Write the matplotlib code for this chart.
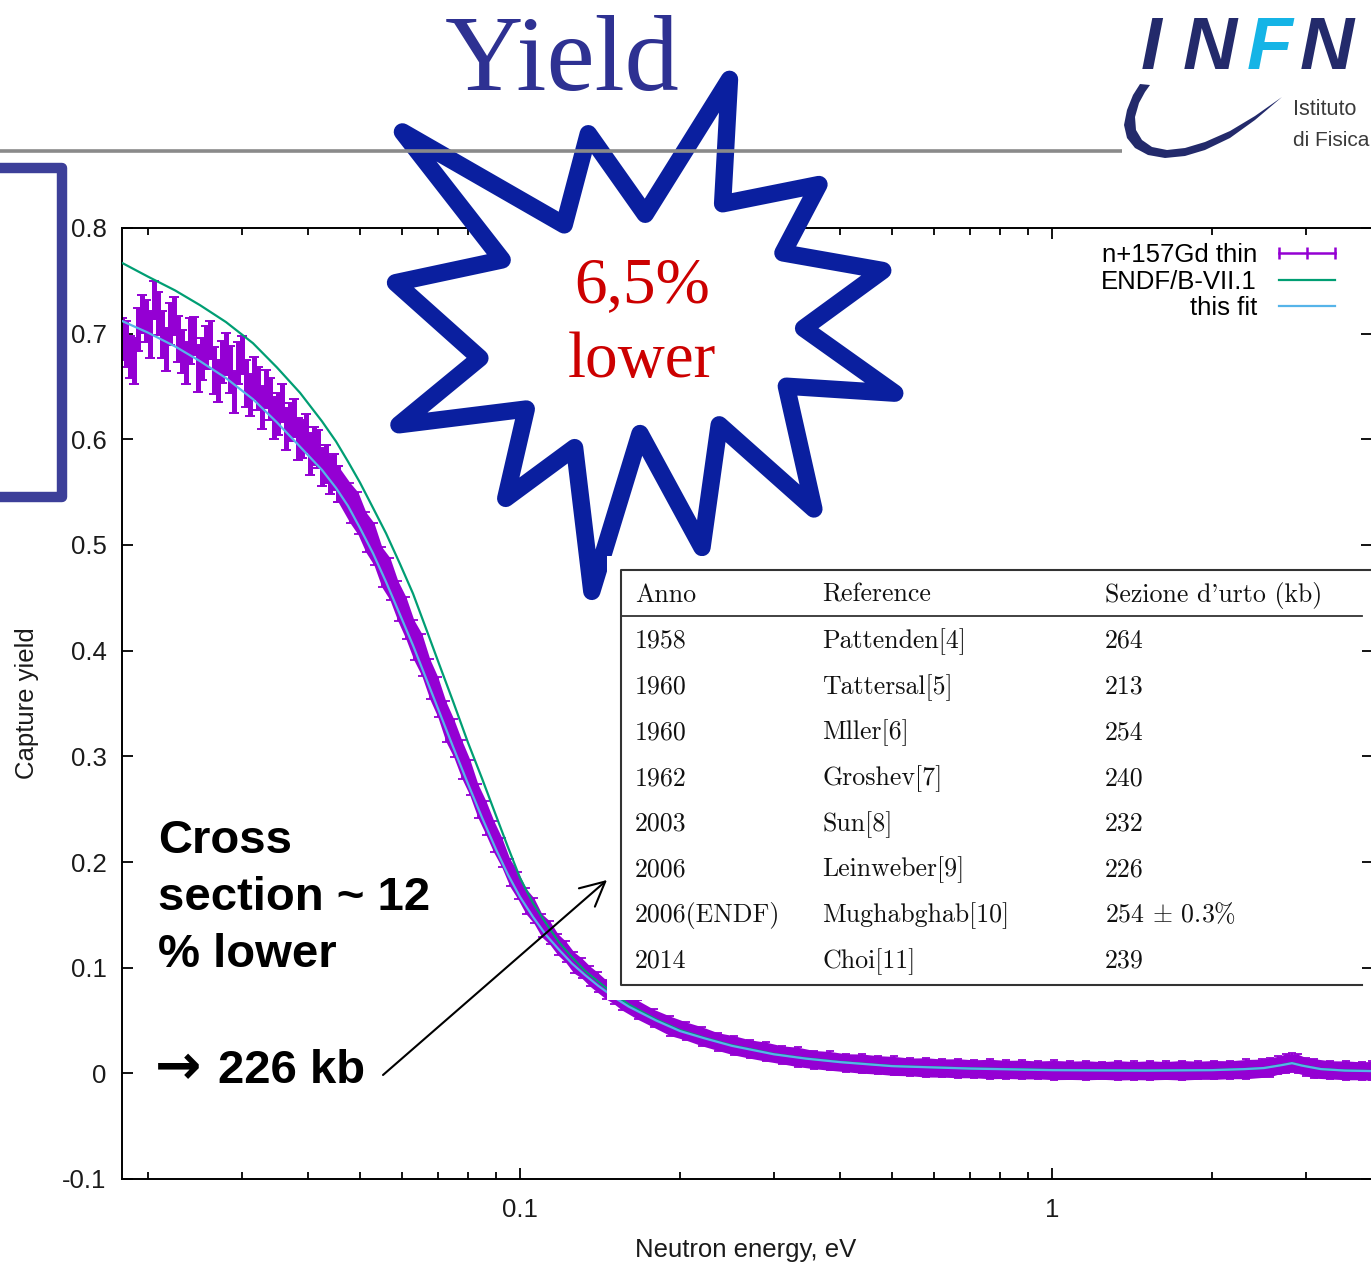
import matplotlib
matplotlib.use("Agg")
import matplotlib.pyplot as plt
from matplotlib.patches import Polygon, Rectangle
from matplotlib.lines import Line2D
from matplotlib.ticker import NullFormatter, LogLocator, FixedLocator

# ---------------- data ----------------
energy_data = [
    # low-energy cloud
    0.01786, 0.018172, 0.018489, 0.018812, 0.019140, 0.019475, 0.019815, 0.020161, 0.020513, 0.020871,
    0.021235, 0.021606, 0.021983, 0.022367, 0.022757, 0.023155, 0.023559, 0.023970, 0.024389, 0.024815,
    0.025248, 0.025689, 0.026137, 0.026593, 0.027058, 0.027530, 0.028011, 0.028500, 0.028997, 0.029504,
    0.030019, 0.030543, 0.031076, 0.031619, 0.032171, 0.032733, 0.033304, 0.033886, 0.034477, 0.035079,
    0.035692, 0.036315, 0.036949, 0.037594, 0.038250, 0.038918, 0.039598, 0.040289, 0.040993, 0.041708,
    0.042437, 0.043178, 0.043931, 0.044698, 0.045479,
    # steep fall
    0.04791, 0.04960, 0.05134, 0.05315, 0.05502, 0.05696, 0.05896, 0.06104, 0.06319,
    0.06541, 0.06771, 0.07010, 0.07256, 0.07512, 0.07776, 0.08050, 0.08333, 0.08627, 0.08930,
    0.09245, 0.09570, 0.09907, 0.1026, 0.1062, 0.1099, 0.1138, 0.1178, 0.1219, 0.1262,
    0.1307, 0.1353, 0.1400, 0.1450, 0.1500, 0.1553,
    # tail and 2.8 eV resonance
    0.1666, 0.1785, 0.1913, 0.2051, 0.2198, 0.2355, 0.2524, 0.2705, 0.2899, 0.3107,
    0.3330, 0.3569, 0.3825, 0.4099, 0.4393, 0.4708, 0.5046, 0.5407, 0.5795, 0.6211,
    0.6656, 0.7133, 0.7645, 0.8193, 0.8780, 0.9410, 1.0085, 1.0808, 1.1583, 1.2413,
    1.3303, 1.4257, 1.5280, 1.6375, 1.7549, 1.8808, 2.0157, 2.1602, 2.3151, 2.4811,
    2.569, 2.660, 2.754, 2.826, 2.900, 3.002, 3.108, 3.332, 3.570, 3.826, 3.996,
]
yield_data = [
    0.695, 0.690, 0.678, 0.674, 0.704, 0.719, 0.712, 0.699, 0.732, 0.719,
    0.699, 0.685, 0.709, 0.717, 0.695, 0.683, 0.672, 0.693, 0.698, 0.667,
    0.676, 0.687, 0.694, 0.665, 0.655, 0.673, 0.681, 0.666, 0.645, 0.672,
    0.680, 0.653, 0.642, 0.658, 0.648, 0.630, 0.648, 0.638, 0.620, 0.624,
    0.634, 0.610, 0.616, 0.620, 0.600, 0.600, 0.606, 0.586, 0.594, 0.591,
    0.574, 0.577, 0.566, 0.569, 0.558,
    0.540, 0.530, 0.512, 0.501, 0.479, 0.468, 0.447, 0.431, 0.410,
    0.396, 0.373, 0.356, 0.333, 0.317, 0.297, 0.280, 0.258, 0.242, 0.224,
    0.209, 0.190, 0.178, 0.163, 0.154, 0.140, 0.133, 0.122, 0.115, 0.105,
    0.0995, 0.092, 0.086, 0.0795, 0.075, 0.069,
    0.060, 0.052, 0.045, 0.040, 0.035, 0.030, 0.0265, 0.023, 0.0205, 0.0175,
    0.0155, 0.013, 0.0118, 0.010, 0.0092, 0.008, 0.0070, 0.0061, 0.0056, 0.0050,
    0.0048, 0.0043, 0.0041, 0.0037, 0.0036, 0.0032, 0.0031, 0.0029, 0.0029, 0.0027,
    0.0028, 0.0026, 0.0028, 0.0027, 0.0029, 0.0029, 0.0032, 0.0034, 0.0040, 0.0048,
    0.0058, 0.0076, 0.0094, 0.0102, 0.0090, 0.0064, 0.0046, 0.0033, 0.0028, 0.0024, 0.0023,
]
yield_err = [
    0.020, 0.022, 0.020, 0.022, 0.020, 0.018, 0.020, 0.022, 0.018, 0.020,
    0.022, 0.020, 0.020, 0.018, 0.022, 0.020, 0.020, 0.022, 0.018, 0.022,
    0.020, 0.020, 0.018, 0.022, 0.020, 0.020, 0.020, 0.022, 0.020, 0.020,
    0.018, 0.022, 0.020, 0.020, 0.020, 0.020, 0.018, 0.020, 0.020, 0.020,
    0.018, 0.020, 0.018, 0.018, 0.020, 0.018, 0.018, 0.020, 0.018, 0.018,
    0.018, 0.018, 0.018, 0.017, 0.017,
    0.019, 0.020, 0.019, 0.020, 0.019, 0.020, 0.019, 0.020, 0.019,
    0.020, 0.019, 0.019, 0.019, 0.018, 0.018, 0.017, 0.016, 0.016, 0.015,
    0.014, 0.013, 0.013, 0.012, 0.012, 0.011, 0.011, 0.010, 0.010, 0.010,
    0.0095, 0.0095, 0.0095, 0.009, 0.009, 0.009,
    0.009, 0.0085, 0.0092, 0.0086, 0.0090, 0.0084, 0.0091, 0.0087, 0.0090, 0.0085,
    0.0092, 0.0086, 0.0089, 0.0085, 0.0091, 0.0087, 0.0090, 0.0084, 0.0091, 0.0086,
    0.0090, 0.0085, 0.0092, 0.0086, 0.0089, 0.0085, 0.0091, 0.0087, 0.0090, 0.0084,
    0.0091, 0.0086, 0.0090, 0.0085, 0.0092, 0.0086, 0.0089, 0.0085, 0.0091, 0.0087,
    0.0090, 0.0085, 0.0091, 0.0086, 0.0090, 0.0085, 0.0092, 0.0086, 0.0089, 0.0085, 0.0090,
]

energy_curve = [
    0.01786, 0.01998, 0.02246, 0.02503, 0.02801, 0.03148, 0.03493, 0.03860, 0.04245, 0.04510,
    0.04750, 0.05004, 0.05295, 0.05601, 0.05950, 0.06294, 0.06658, 0.07015, 0.07485, 0.07985,
    0.08486, 0.09013, 0.09494, 0.1000, 0.1058, 0.1119, 0.1184, 0.1252, 0.1325, 0.1402,
    0.1502, 0.1603, 0.1802, 0.1999, 0.2227, 0.2503, 0.3002, 0.3449, 0.3996, 0.5003,
    0.7014, 1.000, 1.502, 1.999, 2.305, 2.503, 2.706, 2.826, 2.951, 3.203,
    3.554, 3.996,
]
fit_yield = [
    0.712, 0.701, 0.688, 0.674, 0.658, 0.638, 0.616, 0.593, 0.571, 0.554,
    0.537, 0.516, 0.492, 0.465, 0.434, 0.405, 0.374, 0.345, 0.309, 0.274,
    0.242, 0.212, 0.188, 0.167, 0.148, 0.131, 0.117, 0.104, 0.093, 0.083,
    0.072, 0.063, 0.050, 0.040, 0.033, 0.026, 0.018, 0.0139, 0.0106, 0.0068,
    0.0045, 0.0030, 0.0026, 0.0030, 0.0040, 0.0050, 0.0078, 0.0096, 0.0073, 0.0040,
    0.0026, 0.0021,
]
endf_yield = [
    0.767, 0.754, 0.741, 0.727, 0.711, 0.691, 0.668, 0.644, 0.617, 0.598,
    0.579, 0.559, 0.535, 0.511, 0.482, 0.454, 0.421, 0.390, 0.352, 0.313,
    0.279, 0.244, 0.214, 0.185, 0.161, 0.142, 0.124, 0.110, 0.097, 0.087,
    0.075, 0.065, 0.051, 0.041, 0.0335, 0.0265, 0.0183, 0.0142, 0.0108, 0.0070,
    0.0047, 0.0032, 0.0027, 0.0031, 0.0041, 0.0051, 0.0080, 0.0098, 0.0075, 0.0041,
    0.0027, 0.0022,
]

legend_labels = ["n+157Gd thin", "ENDF/B-VII.1", "this fit"]
xtick_values = [0.1, 1]
xtick_labels = ["0.1", "1"]
ytick_values = [-0.1, 0.0, 0.1, 0.2, 0.3, 0.4, 0.5, 0.6, 0.7, 0.8]
ytick_labels = ["-0.1", "0", "0.1", "0.2", "0.3", "0.4", "0.5", "0.6", "0.7", "0.8"]
x_label = "Neutron energy, eV"
y_label = "Capture yield"

table_header = ["Anno", "Reference", "Sezione d'urto (kb)"]
table_years = ["1958", "1960", "1960", "1962", "2003", "2006", "2006(ENDF)", "2014"]
table_refs = ["Pattenden[4]", "Tattersal[5]", "Mller[6]", "Groshev[7]", "Sun[8]",
              "Leinweber[9]", "Mughabghab[10]", "Choi[11]"]
table_xs = ["264", "213", "254", "240", "232", "226", r"254 $\pm$ 0.3%", "239"]

# ---------------- style ----------------
plt.rcParams["mathtext.fontset"] = "cm"
SANS = "Liberation Sans"
SERIF = "Liberation Serif"
C_DATA = "#9400d3"
C_ENDF = "#009e73"
C_FIT = "#56b4e9"

W, H = 1371, 1263
fig = plt.figure(figsize=(W / 100, H / 100), dpi=100)

# main axes (pixel box: x 122..1372, y 228..1179)
ax = fig.add_axes([122 / W, (H - 1179) / H, 1250 / W, 951 / H])
ax.set_xscale("log")
ax.set_xlim(0.01786, 3.996)
ax.set_ylim(-0.1, 0.8)

# low-energy scattered cloud: dense thick error bars; the rest: filled band
E_SPLIT = 0.0455
i_low = [i for i, e in enumerate(energy_data) if e < E_SPLIT]
i_band = [i for i, e in enumerate(energy_data) if e >= 0.0454]
ax.errorbar([energy_data[i] for i in i_low], [yield_data[i] for i in i_low],
            yerr=[yield_err[i] for i in i_low], fmt="none", ecolor=C_DATA,
            elinewidth=3.6, capsize=3.5, capthick=1.4, zorder=2)
eb = [energy_data[i] for i in i_band]
yb_ = [yield_data[i] for i in i_band]
ee = [yield_err[i] for i in i_band]
ax.fill_between(eb, [y - e for y, e in zip(yb_, ee)], [y + e for y, e in zip(yb_, ee)],
                color=C_DATA, lw=0, zorder=2)
ax.errorbar(eb, yb_, yerr=ee, fmt="none", ecolor=C_DATA,
            elinewidth=1.3, capsize=3, capthick=1.3, zorder=2)
l_endf, = ax.plot(energy_curve, endf_yield, color=C_ENDF, lw=1.6, zorder=3)
l_fit, = ax.plot(energy_curve, fit_yield, color=C_FIT, lw=1.6, zorder=4)

ax.xaxis.set_major_locator(FixedLocator(xtick_values))
ax.set_xticklabels(xtick_labels)
ax.xaxis.set_minor_locator(LogLocator(base=10, subs=[2, 3, 4, 5, 6, 7, 8, 9]))
ax.xaxis.set_minor_formatter(NullFormatter())
ax.set_yticks(ytick_values)
ax.set_yticklabels(ytick_labels)

ax.tick_params(which="both", direction="in", top=True, right=True, width=1.3,
               colors="black", labelcolor="#1a1a1a", labelsize=18.5)
ax.tick_params(which="major", length=8)
ax.tick_params(which="minor", length=5)
ax.tick_params(axis="x", pad=14)
ax.tick_params(axis="y", pad=11)
for lab in ax.get_xticklabels() + ax.get_yticklabels():
    lab.set_family(SANS)
for s in ax.spines.values():
    s.set_linewidth(1.4)

ax.set_xlabel(x_label, family=SANS, fontsize=18.5, color="#1a1a1a")
ax.set_ylabel(y_label, family=SANS, fontsize=18.5, color="#1a1a1a")
ax.xaxis.set_label_coords((746 - 122) / 1250, (1179 - 1238) / 951)
ax.yaxis.set_label_coords((39 - 122) / 1250, 0.5)

h_data = Line2D([], [], color=C_DATA, lw=1.8, marker="|", markersize=8.5, markeredgewidth=1.8)
ax.legend([h_data, l_endf, l_fit], legend_labels, loc="upper right",
          bbox_to_anchor=(1343 / W, 1 - 243 / H), bbox_transform=fig.transFigure,
          frameon=False, markerfirst=False, numpoints=3, borderpad=0, borderaxespad=0,
          handlelength=2.8, handletextpad=0.55, labelspacing=0.1,
          prop={"family": SANS, "size": 18.5})

# ---------------- overlay (pixel coordinates) ----------------
ov = fig.add_axes([0, 0, 1, 1], zorder=5)
ov.set_xlim(0, W)
ov.set_ylim(H, 0)
ov.axis("off")

# grey rule and left bracket
ov.plot([0, 1122], [151, 151], color="#8a8a8a", lw=2.6, solid_capstyle="butt")
ov.plot([0, 62, 62, 0], [168, 168, 497, 497], color="#3c3f99", lw=7.5,
        solid_joinstyle="round", solid_capstyle="butt")

# title
ov.text(562, 90, "Yield", ha="center", va="baseline", family=SERIF, fontsize=78,
        color="#2e3192")

# INFN logo
for ch, xc, col in [("I", 1151, "#232a6b"), ("N", 1210, "#232a6b"),
                    ("F", 1270, "#15b4e6"), ("N", 1327, "#232a6b")]:
    ov.text(xc, 69, ch, ha="center", va="baseline", family=SANS, weight="bold",
            style="italic", fontsize=54, color=col)
swoosh = [(1140, 84), (1133, 95), (1127, 110), (1124, 125), (1127, 138), (1135, 148),
          (1148, 155), (1165, 158), (1185, 156), (1205, 150), (1230, 138), (1255, 120),
          (1282, 97), (1255, 116), (1230, 131), (1205, 142), (1185, 148), (1167, 150),
          (1152, 147), (1142, 140), (1136, 130), (1135, 117), (1139, 103), (1145, 92),
          (1150, 85)]
ov.add_patch(Polygon(swoosh, closed=True, facecolor="#232a6b", edgecolor="none"))
ov.text(1293, 115, "Istituto", ha="left", va="baseline", family=SANS,
        fontsize=15.5, color="#3a3a3a")
ov.text(1293, 146, "di Fisica", ha="left", va="baseline", family=SANS,
        fontsize=15, color="#3a3a3a")

# star burst
star = [(729.5, 79.3), (722.6, 203.8), (819.0, 184.5), (782.9, 252.9), (882.8, 270.5),
        (803.6, 328.3), (894.8, 393.2), (786.3, 386.2), (813.9, 509.0), (719.2, 424.8),
        (702.0, 547.5), (640.0, 433.5), (591.8, 591.4), (574.6, 447.6), (505.7, 498.4),
        (526.3, 409.0), (398.9, 424.8), (479.9, 358.1), (395.5, 282.7), (502.2, 259.9),
        (402.4, 131.9), (564.2, 224.9), (588.3, 133.7), (645.2, 214.3)]
ov.add_patch(Polygon(star, closed=True, facecolor="white", edgecolor="#0a1f9f",
                     lw=12.5, joinstyle="round"))
ov.text(642, 302, "6,5%", ha="center", va="baseline", family=SERIF, fontsize=47,
        color="#cc0000")
ov.text(642, 377, "lower", ha="center", va="baseline", family=SERIF, fontsize=47,
        color="#cc0000")

# table image
ov.add_patch(Rectangle((607, 556), 755, 444, facecolor="white", edgecolor="none"))
ov.plot([1371, 621, 621, 1362], [570, 570, 985, 985], color="#333333", lw=1.5)
ov.plot([621, 1362], [616, 616], color="#333333", lw=1.3)
col_x = [635, 822, 1105]
for cx, txt in zip(col_x, table_header):
    ov.text(cx, 602, txt, ha="left", va="baseline", family="cmr10", fontsize=18.6,
            color="#111111")
for i, (yr, rf, xs) in enumerate(zip(table_years, table_refs, table_xs)):
    yb = 648 + i * 45.7
    for cx, txt in zip(col_x, (yr, rf, xs)):
        ov.text(cx, yb, txt, ha="left", va="baseline", family="cmr10", fontsize=18.6,
                color="#111111")

# annotation text and arrow
for txt, yb in [("Cross", 853), ("section ~ 12", 910), ("% lower", 967)]:
    ov.text(158, yb, txt, ha="left", va="baseline", family=SANS, weight="bold",
            fontsize=34, color="black")
ov.text(155, 1084, "\u2192", ha="left", va="baseline", family="DejaVu Sans",
        weight="bold", fontsize=40, color="black")
ov.text(218, 1083, "226 kb", ha="left", va="baseline", family=SANS,
        weight="bold", fontsize=34, color="black")
ov.annotate("", xy=(607, 880), xytext=(383, 1075),
            arrowprops=dict(arrowstyle="->,head_length=0.7,head_width=0.35",
                            lw=1.5, color="black", mutation_scale=25,
                            shrinkA=0, shrinkB=0))

fig.savefig("out.png", dpi=100)
